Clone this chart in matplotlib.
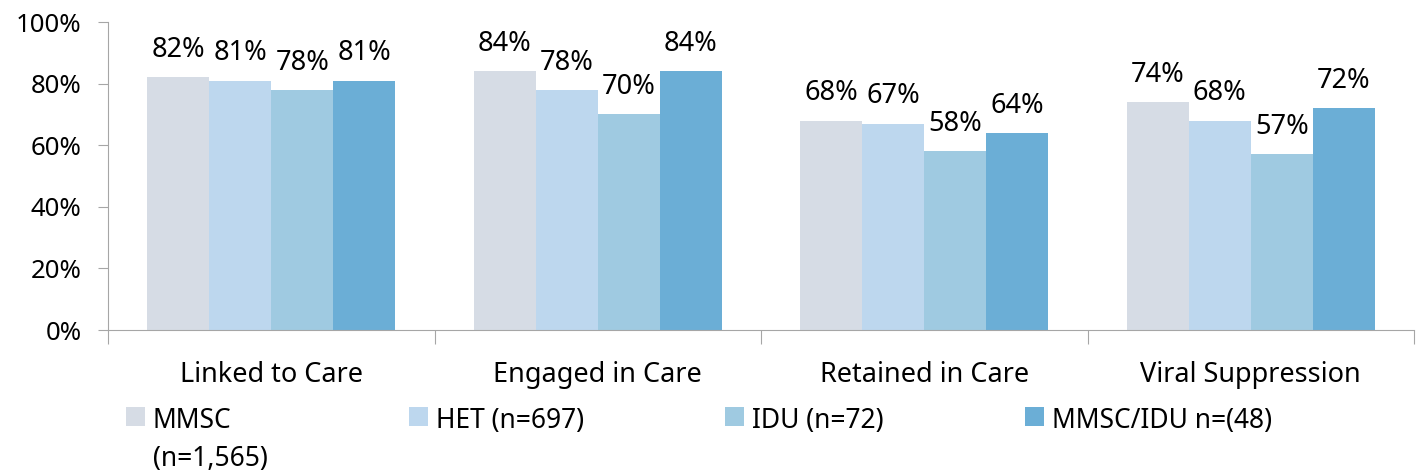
import matplotlib
matplotlib.use("Agg")
import matplotlib.pyplot as plt
import numpy as np

categories = ["Linked to Care", "Engaged in Care", "Retained in Care", "Viral Suppression"]
groups = ["MMSC\n(n=1,565)", "HET (n=697)", "IDU (n=72)", "MMSC/IDU n=(48)"]
values = {
    "MMSC\n(n=1,565)": [82, 84, 68, 74],
    "HET (n=697)": [81, 78, 67, 68],
    "IDU (n=72)": [78, 70, 58, 57],
    "MMSC/IDU n=(48)": [81, 84, 64, 72],
}
colors = ["#D6DCE5", "#BDD7EE", "#9FCAE1", "#6BAED6"]
yticks = [0, 20, 40, 60, 80, 100]

plt.rcParams["font.family"] = ["Noto Sans", "DejaVu Sans"]
FS = 19.5

fig = plt.figure(figsize=(14.22, 4.76), dpi=100)
ax = fig.add_axes([108 / 1422, 146 / 476, (1414 - 108) / 1422, (330 - 22) / 476])

x = np.arange(len(categories))
width = 0.19
for i, (g, c) in enumerate(zip(groups, colors)):
    pos = x + (i - 1.5) * width
    ax.bar(pos, values[g], width=width, color=c, label=g, zorder=2)
    for px, v in zip(pos, values[g]):
        ax.annotate(f"{v}%", (px, v), xytext=(0, 9.5), textcoords="offset points",
                    ha="center", va="bottom", fontsize=FS)

ax.set_xlim(-0.5, len(categories) - 0.5)
ax.set_ylim(0, 100)
ax.set_yticks(yticks)
ax.set_yticklabels([f"{t}%" for t in yticks], fontsize=18.5)
ax.tick_params(axis="y", length=7, color="#A6A6A6", pad=12)

# group boundaries as major ticks, labels on minor ticks
ax.set_xticks(np.arange(len(categories) + 1) - 0.5)
ax.set_xticklabels([])
ax.tick_params(axis="x", which="major", length=10, color="#A6A6A6")
ax.set_xticks(x, minor=True)
ax.set_xticklabels(categories, minor=True, fontsize=FS)
ax.tick_params(axis="x", which="minor", length=0, pad=22)

for s in ["top", "right"]:
    ax.spines[s].set_visible(False)
for s in ["left", "bottom"]:
    ax.spines[s].set_color("#A6A6A6")

leg = fig.legend(loc="upper left", bbox_to_anchor=(126 / 1422, 0.144), ncol=4,
                 frameon=False, fontsize=19, borderpad=0, borderaxespad=0,
                 handlelength=0.72, handleheight=0.72, handletextpad=0.3,
                 columnspacing=5.35)
for t in leg.get_texts():
    t.set_linespacing(1.45)
# keep handles level with the first line of a wrapped label
leg._legend_handle_box.align = "top"
for col in leg._legend_handle_box.get_children():
    for entry in col.get_children():
        entry.align = "top"

fig.savefig("out.png", dpi=100)
